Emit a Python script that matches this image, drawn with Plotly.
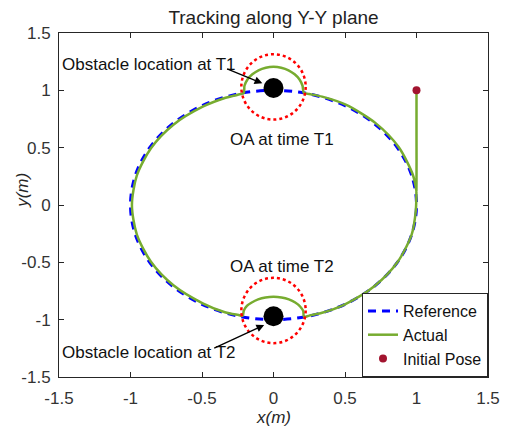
import plotly.graph_objects as go

# ---------------- data ----------------
REF_X = [1.0, 0.966, 0.866, 0.707, 0.5, 0.259, 0.0, -0.259, -0.5, -0.707, -0.866, -0.966,
         -1.0, -0.966, -0.866, -0.707, -0.5, -0.259, 0.0, 0.259, 0.5, 0.707, 0.866, 0.966, 1.0]
REF_Y = [0.0, 0.259, 0.5, 0.707, 0.866, 0.966, 1.0, 0.966, 0.866, 0.707, 0.5, 0.259,
         0.0, -0.259, -0.5, -0.707, -0.866, -0.966, -1.0, -0.966, -0.866, -0.707, -0.5, -0.259, 0.0]

ACT_X = [1.0, 1.0, 1.0, 0.995, 0.966, 0.866, 0.707, 0.50, 0.34, 0.25, 0.213,
         0.208, 0.186, 0.152, 0.1075, 0.056, 0.0, -0.056, -0.1075, -0.152, -0.186, -0.208, -0.215,
         -0.25, -0.34, -0.495, -0.70, -0.857, -0.956, -0.99, -0.956, -0.857, -0.70, -0.495, -0.335,
         -0.25, -0.208,
         -0.203, -0.182, -0.148, -0.105, -0.054, 0.0, 0.054, 0.105, 0.148, 0.182, 0.203, 0.212,
         0.25, 0.34, 0.505, 0.714, 0.875, 0.975, 1.0]
ACT_Y = [1.0, 0.60, 0.20, -0.05, -0.259, -0.50, -0.707, -0.866, -0.94, -0.965, -0.975,
         -0.925, -0.885, -0.85, -0.823, -0.806, -0.80, -0.806, -0.823, -0.85, -0.88, -0.922, -0.965,
         -0.958, -0.935, -0.857, -0.70, -0.495, -0.256, 0.0, 0.256, 0.495, 0.70, 0.857, 0.935,
         0.962, 0.978,
         1.04, 1.095, 1.14, 1.175, 1.197, 1.205, 1.197, 1.175, 1.14, 1.095, 1.04, 0.978,
         0.968, 0.945, 0.875, 0.714, 0.505, 0.262, 0.12]

INIT_X = [1.0]
INIT_Y = [1.0]

OBS_X = [0.0, 0.0]
OBS_Y = [1.02, -0.97]

SAFE_CX = [0.0, 0.0]
SAFE_CY = [1.03, -0.92]
SAFE_RX = [0.225, 0.225]
SAFE_RY = [0.285, 0.285]

TICKS = [-1.5, -1.0, -0.5, 0.0, 0.5, 1.0, 1.5]
TICK_TEXT = ["-1.5", "-1", "-0.5", "0", "0.5", "1", "1.5"]

FONT = "Liberation Sans, Arial, sans-serif"
AX_COL = "#262626"

fig = go.Figure()

fig.add_trace(go.Scatter(x=REF_X, y=REF_Y, mode="lines", name="Reference",
                         line=dict(color="#0000ff", width=3, dash="8px,6px", shape="spline")))
fig.add_trace(go.Scatter(x=ACT_X, y=ACT_Y, mode="lines", name="Actual",
                         line=dict(color="#77ac30", width=2.5, shape="spline", smoothing=0.8)))
fig.add_trace(go.Scatter(x=INIT_X, y=INIT_Y, mode="markers", name="Initial Pose",
                         marker=dict(color="#a2142f", size=8)))
fig.add_trace(go.Scatter(x=OBS_X, y=OBS_Y, mode="markers", showlegend=False,
                         marker=dict(color="black", size=20)))

for cx, cy, rx, ry in zip(SAFE_CX, SAFE_CY, SAFE_RX, SAFE_RY):
    fig.add_shape(type="circle", xref="x", yref="y",
                  x0=cx - rx, x1=cx + rx, y0=cy - ry, y1=cy + ry,
                  line=dict(color="#ff0000", width=2.5, dash="dot"), layer="above")

ann_font = dict(family=FONT, size=17, color="#111111")
fig.add_annotation(x=-1.49, y=1.225, xref="x", yref="y", text="Obstacle location at T1",
                   showarrow=False, xanchor="left", yanchor="middle", font=ann_font)
fig.add_annotation(x=-1.49, y=-1.29, xref="x", yref="y", text="Obstacle location at T2",
                   showarrow=False, xanchor="left", yanchor="middle", font=ann_font)
fig.add_annotation(x=0.056, y=0.567, xref="x", yref="y", text="OA at time T1",
                   showarrow=False, font=ann_font)
fig.add_annotation(x=0.056, y=-0.54, xref="x", yref="y", text="OA at time T2",
                   showarrow=False, font=ann_font)
# arrows
fig.add_annotation(x=-0.078, y=1.061, ax=-0.335, ay=1.192, xref="x", yref="y",
                   axref="x", ayref="y", text="", showarrow=True, arrowhead=2,
                   arrowsize=1.2, arrowwidth=1.3, arrowcolor="black")
fig.add_annotation(x=-0.065, y=-1.046, ax=-0.425, ay=-1.255, xref="x", yref="y",
                   axref="x", ayref="y", text="", showarrow=True, arrowhead=2,
                   arrowsize=1.2, arrowwidth=1.3, arrowcolor="black")

# axis titles
fig.add_annotation(x=0.5, y=-0.118, xref="paper", yref="paper", text="<i>x(m)</i>",
                   showarrow=False, font=dict(family=FONT, size=17, color=AX_COL),
                   yanchor="middle")
fig.add_annotation(x=-0.084, y=0.544, xref="paper", yref="paper", text="<i>y(m)</i>",
                   showarrow=False, textangle=-90, font=dict(family=FONT, size=17, color=AX_COL),
                   xanchor="center", yanchor="middle")

axis_common = dict(range=[-1.5, 1.5], tickvals=TICKS, ticktext=TICK_TEXT,
                   showline=True, linecolor=AX_COL, linewidth=1, mirror="allticks",
                   ticks="inside", ticklen=5, tickcolor=AX_COL, showgrid=False,
                   zeroline=False, automargin=False,
                   tickfont=dict(family=FONT, size=17, color="#333333"))

fig.update_layout(
    width=506, height=429,
    margin=dict(l=59, r=18, t=33, b=52, autoexpand=False),
    paper_bgcolor="white", plot_bgcolor="white",
    title=dict(text="Tracking along Y-Y plane", x=0.5, xref="paper", xanchor="center",
               y=0.96, yref="container", yanchor="middle",
               font=dict(family=FONT, size=19, color="#222222")),
    xaxis=axis_common,
    yaxis=axis_common,
    legend=dict(x=1, y=0, xanchor="right", yanchor="bottom", bgcolor="white",
                bordercolor=AX_COL, borderwidth=1, itemwidth=30,
                font=dict(family=FONT, size=16, color="#111111"),
                tracegroupgap=0),
    showlegend=True,
)
fig.update_xaxes(ticklabelstandoff=6)
fig.update_yaxes(ticklabelstandoff=4)

fig.write_html("out.html")
